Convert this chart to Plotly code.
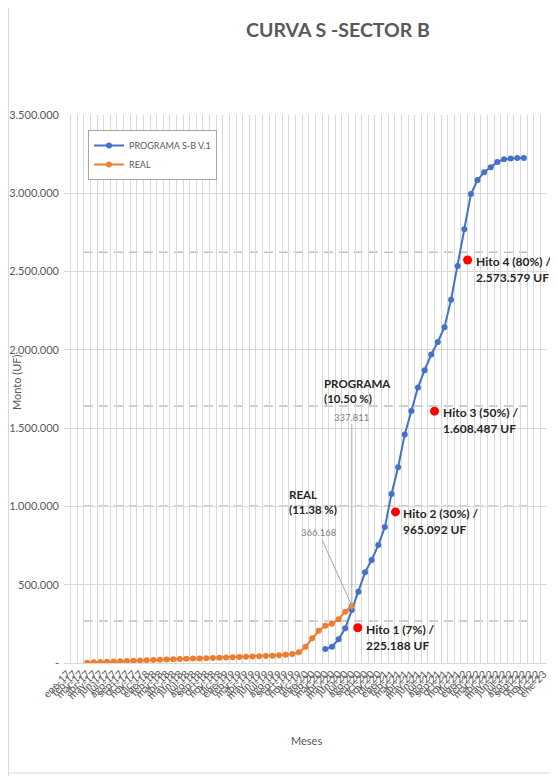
import plotly.graph_objects as go

# ---------------- data ----------------
meses_es = ["ene", "feb", "mar", "abr", "may", "jun", "jul", "ago", "sep", "oct", "nov", "dic"]
start_year = 17
start_month = 0
n_cat = 73
categorias = []
for k in range(n_cat):
    m = (start_month + k) % 12
    y = start_year + (start_month + k) // 12
    categorias.append(f"{meses_es[m]}-{y:02d}")

real_idx = list(range(3, 44))
real_vals = [2000, 4000, 6000, 8000, 10000, 11500, 13000, 14500, 16000, 17500,
             19000, 20500, 22000, 23500, 25000, 26500, 28000, 29500, 31000, 32500,
             34000, 35500, 37000, 38500, 40000, 41500, 43000, 45000, 47000, 49000,
             53000, 58000, 68000, 104000, 158000, 206000, 238000, 250000, 280000,
             328000, 366168]

prog_idx = list(range(39, 70))
prog_vals = [89000, 104000, 151000, 222000, 337811, 455000, 579000, 658000, 753000,
             868000, 1080000, 1250000, 1460000, 1610000, 1760000, 1870000, 1970000,
             2050000, 2145000, 2320000, 2535000, 2770000, 2995000, 3085000, 3135000,
             3167000, 3200000, 3217000, 3222000, 3225000, 3226000]

hito_x = [43.9, 49.6, 55.5, 60.5]
hito_vals = [225188, 965092, 1608487, 2573579]
hito_text = ["Hito 1 (7%) /<br>225.188 UF", "Hito 2 (30%) /<br>965.092 UF",
             "Hito 3 (50%) /<br>1.608.487 UF", "Hito 4 (80%) /<br>2.573.579 UF"]

umbrales = [268000, 1002600, 1641000, 2623000]

y_tickvals = [0, 500000, 1000000, 1500000, 2000000, 2500000, 3000000, 3500000]
y_ticktext = ["-", "500.000", "1.000.000", "1.500.000", "2.000.000", "2.500.000",
              "3.000.000", "3.500.000"]

# ---------------- figure ----------------
FONT = "Lato"
BLUE = "#4472C4"
ORANGE = "#ED7D31"
GRID = "#d9d9d9"
TXT = "#595959"

# page offset of the figure (body margin)
OFF = 8
PL, PT, PW, PH = 64, 115, 483, 548   # plot area in page pixels


def px(xp):
    return (xp - PL) / PW


def py(yp):
    return (PT + PH - yp) / PH


fig = go.Figure()

fig.add_trace(go.Scatter(
    x=prog_idx, y=prog_vals, mode="lines+markers", name="PROGRAMA S-B V.1",
    line=dict(color=BLUE, width=2), marker=dict(color=BLUE, size=6)))
fig.add_trace(go.Scatter(
    x=real_idx, y=real_vals, mode="lines+markers", name="REAL",
    line=dict(color=ORANGE, width=2), marker=dict(color=ORANGE, size=6)))
fig.add_trace(go.Scatter(
    x=hito_x, y=hito_vals, mode="markers", showlegend=False,
    marker=dict(color="#FF0000", size=9)))

for u in umbrales:
    fig.add_shape(type="line", xref="x", yref="y", x0=2.5, x1=70, y0=u, y1=u,
                  line=dict(color="#bfbfbf", width=1.6, dash="9px,6px"), layer="below")

# hito labels
for hx, hv, ht in zip(hito_x, hito_vals, hito_text):
    fig.add_annotation(x=hx, y=hv, text="<b>" + ht + "</b>", showarrow=False,
                       xanchor="left", yanchor="top", xshift=6, yshift=8, align="left",
                       font=dict(family=FONT, size=12, color="#262626"))

# programa / real labels
fig.add_annotation(xref="paper", yref="paper", x=px(322), y=py(391),
                   text="<b>PROGRAMA<br>(10.50 %)</b>", showarrow=False,
                   xanchor="left", yanchor="middle", align="left",
                   font=dict(family=FONT, size=11.5, color="#262626"))
fig.add_annotation(xref="paper", yref="paper", x=px(287), y=py(502),
                   text="<b>REAL<br>(11.38 %)</b>", showarrow=False,
                   xanchor="left", yanchor="middle", align="left",
                   font=dict(family=FONT, size=11.5, color="#262626"))
fig.add_annotation(x=43, y=prog_vals[43 - 39], text="337.811", showarrow=True,
                   arrowhead=0, arrowwidth=1, arrowcolor="#a6a6a6", ax=0, ay=-193,
                   font=dict(family=FONT, size=9.5, color="#7f7f7f"))
fig.add_annotation(x=43, y=real_vals[-1], text="366.168", showarrow=True,
                   arrowhead=0, arrowwidth=1, arrowcolor="#a6a6a6", ax=-33, ay=-73,
                   font=dict(family=FONT, size=9.5, color="#7f7f7f"))

# axis titles
fig.add_annotation(xref="paper", yref="paper", x=px(16), y=py(382),
                   xanchor="center", yanchor="middle",
                   text="Monto (UF)", textangle=-90, showarrow=False,
                   font=dict(family=FONT, size=11, color=TXT))
fig.add_annotation(xref="paper", yref="paper", x=px(306), y=py(740),
                   xanchor="center", yanchor="middle",
                   text="Meses", showarrow=False, font=dict(family=FONT, size=11, color=TXT))

# outer frame lines
fig.add_shape(type="line", xref="paper", yref="paper", x0=px(OFF + 0.5), x1=px(OFF + 0.5),
              y0=py(776), y1=py(OFF), line=dict(color=GRID, width=1))
fig.add_shape(type="line", xref="paper", yref="paper", x0=px(OFF + 0.5), x1=px(557),
              y0=py(773), y1=py(773), line=dict(color=GRID, width=1))

fig.update_layout(
    width=558 - OFF, height=776 - OFF,
    margin=dict(l=PL - OFF, r=558 - (PL + PW), t=PT - OFF, b=776 - (PT + PH)),
    paper_bgcolor="white", plot_bgcolor="white",
    font=dict(family=FONT, color=TXT),
    title=dict(text="<b>CURVA S -SECTOR B</b>", x=(338 - OFF) / (558 - OFF), xref="container",
               xanchor="center", y=1 - (30 - OFF) / (776 - OFF), yanchor="middle",
               font=dict(family=FONT, size=19.5, color=TXT)),
    legend=dict(x=px(88), y=py(130), xanchor="left", yanchor="top",
                bordercolor="#a6a6a6", borderwidth=1, bgcolor="white",
                font=dict(family=FONT, size=9, color=TXT), tracegroupgap=0,
                itemwidth=30),
    showlegend=True,
)

fig.update_xaxes(
    range=[-0.5, n_cat - 0.5], tickmode="array", tickvals=list(range(n_cat)),
    ticktext=categorias, tickangle=-45, tickfont=dict(family=FONT, size=10.5, color=TXT),
    showgrid=False, showline=True, linecolor=GRID, linewidth=1, ticks="", zeroline=False,
    automargin=False,
    minor=dict(showgrid=True, tick0=0.5, dtick=1, gridcolor=GRID, gridwidth=1),
)
fig.update_yaxes(
    range=[0, 3500000], tickmode="array", tickvals=y_tickvals, ticktext=y_ticktext,
    tickfont=dict(family=FONT, size=11, color=TXT), showgrid=True, gridcolor=GRID,
    gridwidth=1, zeroline=False, showline=False, ticks="", ticklabelstandoff=4,
    automargin=False,
)

fig.write_html("out.html")
